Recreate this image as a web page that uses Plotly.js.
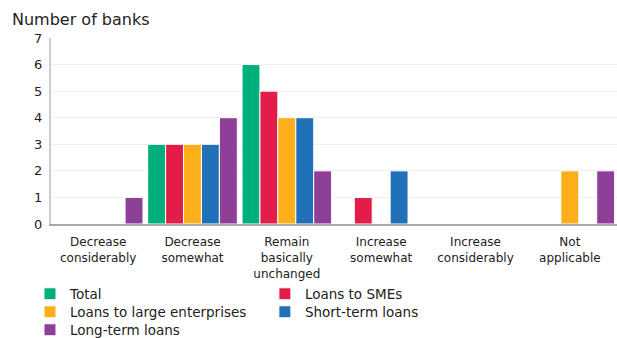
<!DOCTYPE html>
<html><head><meta charset="utf-8">
<script src="https://cdn.plot.ly/plotly-3.0.1.min.js"></script>
<style>html,body{margin:0;padding:0;background:#fff}#chart{width:617px;height:338px}</style>
</head><body><div id="chart"></div>
<script>
const categories = ["Decrease<br>considerably","Decrease<br>somewhat","Remain<br>basically<br>unchanged","Increase<br>somewhat","Increase<br>considerably","Not<br>applicable"];
const seriesNames = ["Total","Loans to SMEs","Loans to large enterprises","Short-term loans","Long-term loans"];
const total = [0,3,6,0,0,0];
const smes = [0,3,5,1,0,0];
const large = [0,3,4,0,0,2];
const shortTerm = [0,3,4,2,0,0];
const longTerm = [1,4,2,0,0,2];
const colors = ["#00B07C","#E31D4A","#FDAF1B","#2171B8","#8E3F97"];
const values = [total, smes, large, shortTerm, longTerm];
const legendIds = ["legend","legend","legend2","legend2","legend3"];
const traces = values.map((v,i)=>({
  type:"bar", name:seriesNames[i], x:categories, y:v, legend:legendIds[i],
  marker:{color:colors[i], line:{color:"#ffffff", width:1}},
  hoverinfo:"none"
}));
const font = "DejaVu Sans, Verdana, sans-serif";
const legBase = {orientation:"h", xref:"container", yref:"container", x:0.0486, xanchor:"left", yanchor:"middle",
          font:{size:13.5, color:"#222"}, entrywidth:0.415, entrywidthmode:"fraction",
          itemwidth:30, tracegroupgap:0, traceorder:"normal", bgcolor:"rgba(0,0,0,0)"};
const layout = {
  width:617, height:338,
  margin:{l:51, r:0, t:38, b:114},
  paper_bgcolor:"#fff", plot_bgcolor:"#fff",
  font:{family:font, size:12, color:"#222"},
  barmode:"group", bargap:0.05, bargroupgap:0,
  xaxis:{showline:true, linecolor:"#aaaaaa", linewidth:2, ticks:"", tickfont:{size:12}, ticklabelstandoff:6, fixedrange:true, automargin:false},
  yaxis:{range:[0,7], dtick:1, showline:true, linecolor:"#cccccc", linewidth:2, ticklabelstandoff:4,
         gridcolor:"#f0f0f0", ticks:"", tickfont:{size:13}, zeroline:false, fixedrange:true, automargin:false},
  showlegend:true,
  legend:Object.assign({}, legBase, {y:1-294/338}),
  legend2:Object.assign({}, legBase, {y:1-312/338}),
  legend3:Object.assign({}, legBase, {y:1-330/338}),
  annotations:[{text:"Number of banks", xref:"paper", yref:"paper", x:-0.072, xanchor:"left",
                y:1.035, yanchor:"bottom", showarrow:false, font:{size:16, color:"#222"}}]
};
Plotly.newPlot("chart", traces, layout, {displayModeBar:false, staticPlot:true});
</script></body></html>
